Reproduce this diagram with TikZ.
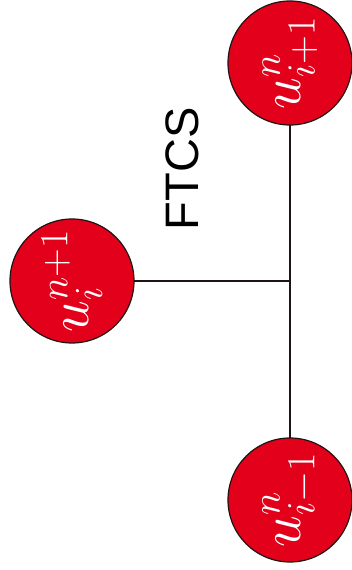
\RequirePackage{fix-cm}
\documentclass[tikz,border=0pt]{standalone}
\usepackage{fontspec}
\setsansfont{Liberation Sans}
\definecolor{cellred}{RGB}{226,0,26}
\definecolor{rimdark}{RGB}{30,20,20}
\begin{document}
\begin{tikzpicture}[x=1pt,y=1pt,
  cell/.style={circle,draw=rimdark,line width=1.2pt,fill=cellred,minimum size=124pt,inner sep=0pt,
    text=white,font=\fontsize{57}{68}\selectfont,rotate=90},
  link/.style={draw=rimdark,line width=2pt}]
\useasboundingbox (0,0) rectangle (351,570);
\coordinate (j) at (290,289);
\draw[link] (290,507) -- (290,70);
\draw[link] (72,289) -- (j);
\node[cell] (top) at (290,507) {$u_{i+1}^{n}$};
\node[cell] (left) at (72,289) {$u_i^{n+1}$};
\node[cell] (bot) at (290,70) {$u_{i-1}^{n}$};
\node[rotate=90,font=\sffamily\fontsize{47}{56}\selectfont,inner sep=0pt] (lab) at (182,401) {FTCS};
\end{tikzpicture}
\end{document}
